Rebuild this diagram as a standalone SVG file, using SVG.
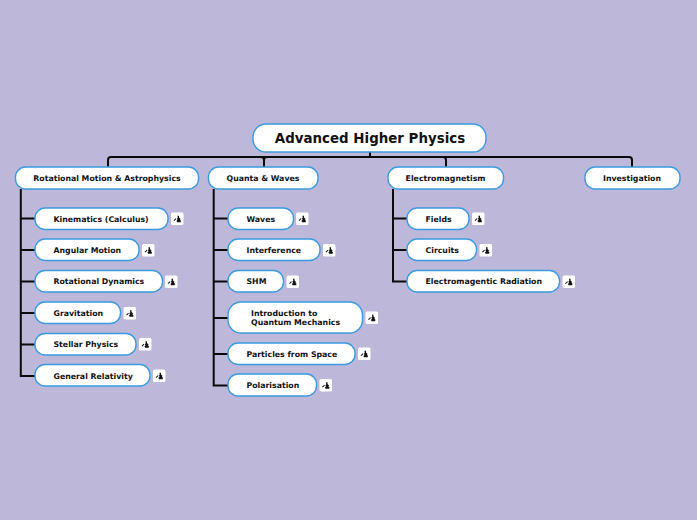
<svg xmlns="http://www.w3.org/2000/svg" width="697" height="520" viewBox="0 0 697 520">
<style>
.n{fill:#fff;stroke:#3a9be0;stroke-width:1.4}
.c{fill:none;stroke:#0a0a0a;stroke-width:2}
text{font-family:"DejaVu Sans",sans-serif;font-weight:700;fill:#111;font-size:7.8px}
.m{text-anchor:middle}
.t{font-size:13.4px}
</style>
<defs>
<g id="icon">
<rect width="12.500" height="12.500" rx="1.500" fill="#fff"/>
<path d="M2.600 7.800L4.800 5.800L5.400 6.500L3.300 8.500Z M6.400 3.200L8 3.200L8 5L9.600 6.400L8.800 7.200L10 8.200L9.600 9.800L6.200 9.800L5.400 8.400L6.600 7.200L5.800 6.200L6.800 5.200Z" fill="#111"/>
</g>
</defs>
<rect width="697" height="520" fill="#bdb7d9"/>
<g id="connectors">
<path class="c" d="M370 152V157M108 167V160Q108 157 111 157H629Q632 157 632 160V167M264 167V160Q264 157 261 157M264 160Q264 157 267 157M446 167V160Q446 157 443 157"/>
<path class="c" d="M20.800 189V376H35M20.800 218.500H35M20.800 250H35M20.800 281.500H35M20.800 313H35M20.800 344.500H35"/>
<path class="c" d="M213.700 189V385.500H228M213.700 218.500H228M213.700 250H228M213.700 281.500H228M213.700 318H228M213.700 354H228"/>
<path class="c" d="M393 189V281.500H407M393 218.500H407M393 250H407"/>
</g>
<g id="root"><rect class="n" x="253" y="124" width="233" height="28" rx="13"/><text class="t m" x="370" y="143">Advanced Higher Physics</text></g>
<g id="n-rotational"><rect class="n" x="15.500" y="167" width="183" height="22" rx="10"/><text class="m" x="107" y="181">Rotational Motion &amp; Astrophysics</text></g>
<g id="n-quanta"><rect class="n" x="208.500" y="167" width="109.500" height="22" rx="10"/><text class="m" x="263" y="181">Quanta &amp; Waves</text></g>
<g id="n-electro"><rect class="n" x="388" y="167" width="115.500" height="22" rx="10"/><text class="m" x="445.500" y="181">Electromagnetism</text></g>
<g id="n-investigation"><rect class="n" x="585" y="167" width="95" height="22" rx="10"/><text class="m" x="632" y="181">Investigation</text></g>

<g id="n-kinematics"><rect class="n" x="35" y="208" width="133" height="21.500" rx="10"/><text x="53.500" y="222">Kinematics (Calculus)</text><use href="#icon" x="171" y="212.500"/></g>
<g id="n-angular"><rect class="n" x="35" y="239" width="104" height="21.500" rx="10"/><text x="53.500" y="253">Angular Motion</text><use href="#icon" x="142" y="244"/></g>
<g id="n-rotdyn"><rect class="n" x="35" y="270.500" width="127.500" height="21.500" rx="10"/><text x="53.500" y="284">Rotational Dynamics</text><use href="#icon" x="165" y="275.500"/></g>
<g id="n-gravitation"><rect class="n" x="35" y="302" width="85.500" height="21.500" rx="10"/><text x="53.500" y="316">Gravitation</text><use href="#icon" x="123.500" y="307"/></g>
<g id="n-stellar"><rect class="n" x="35" y="333.500" width="101" height="21.500" rx="10"/><text x="53.500" y="347">Stellar Physics</text><use href="#icon" x="139" y="338"/></g>
<g id="n-relativity"><rect class="n" x="35" y="364.500" width="115" height="21.500" rx="10"/><text x="53.500" y="379">General Relativity</text><use href="#icon" x="153" y="369.500"/></g>

<g id="n-waves"><rect class="n" x="228" y="208" width="65.500" height="21.500" rx="10"/><text x="246.500" y="222">Waves</text><use href="#icon" x="296" y="212.500"/></g>
<g id="n-interference"><rect class="n" x="228" y="239" width="92" height="21.500" rx="10"/><text x="246.500" y="253">Interference</text><use href="#icon" x="323" y="244"/></g>
<g id="n-shm"><rect class="n" x="228" y="270.500" width="55.500" height="21.500" rx="10"/><text x="246.500" y="284">SHM</text><use href="#icon" x="286.500" y="275.500"/></g>
<g id="n-intro"><rect class="n" x="228" y="302" width="134.500" height="31" rx="13"/><text x="251" y="316">Introduction to</text><text x="251" y="325">Quantum Mechanics</text><use href="#icon" x="365.500" y="311.500"/></g>
<g id="n-particles"><rect class="n" x="228" y="343" width="127" height="21.500" rx="10"/><text x="246.500" y="357">Particles from Space</text><use href="#icon" x="358" y="347.500"/></g>
<g id="n-polarisation"><rect class="n" x="228" y="374" width="88.500" height="22" rx="10"/><text x="246.500" y="388">Polarisation</text><use href="#icon" x="319.500" y="379"/></g>

<g id="n-fields"><rect class="n" x="407" y="208" width="62" height="21.500" rx="10"/><text x="425.500" y="222">Fields</text><use href="#icon" x="472" y="212.500"/></g>
<g id="n-circuits"><rect class="n" x="407" y="239" width="69.500" height="21.500" rx="10"/><text x="425.500" y="253">Circuits</text><use href="#icon" x="479.500" y="244"/></g>
<g id="n-radiation"><rect class="n" x="407" y="270.500" width="152.500" height="21.500" rx="10"/><text x="425.500" y="284">Electromagentic Radiation</text><use href="#icon" x="562.500" y="275.500"/></g>
</svg>
